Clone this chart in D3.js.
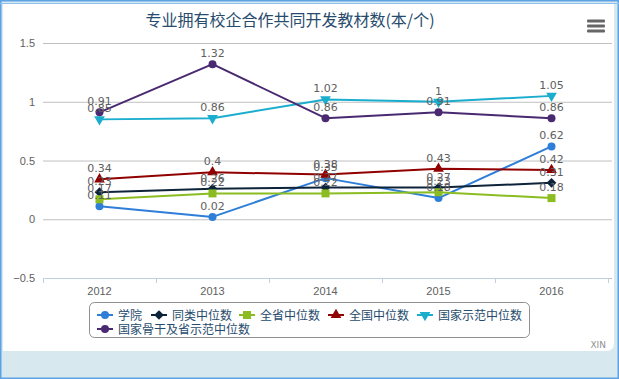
<!DOCTYPE html>
<html><head><meta charset="utf-8">
<script src="https://cdn.jsdelivr.net/npm/d3@7"></script>
<style>
html,body{margin:0;padding:0;background:#fff;}
svg{display:block;font-family:"DejaVu Sans","Noto Sans CJK SC",sans-serif;}
</style></head>
<body><svg id="c" width="619" height="379"></svg>
<script>
const title = "专业拥有校企合作共同开发教材数(本/个)";
const categories = ["2012","2013","2014","2015","2016"];
const yTicks = [-0.5, 0, 0.5, 1, 1.5];
const seriesNames = ["学院","同类中位数","全省中位数","全国中位数","国家示范中位数","国家骨干及省示范中位数"];
const xueyuan = [0.11, 0.02, 0.35, 0.18, 0.62];
const tonglei = [0.23, 0.26, 0.27, 0.27, 0.31];
const quansheng = [0.17, 0.22, 0.22, 0.23, 0.18];
const quanguo = [0.34, 0.4, 0.38, 0.43, 0.42];
const shifan = [0.85, 0.86, 1.02, 1, 1.05];
const gugan = [0.91, 1.32, 0.86, 0.91, 0.86];
const colors = ["#2f7ed8","#0d233a","#8bbc21","#910000","#1aadce","#492970"];
const symbols = ["circle","diamond","square","triangle","triangle-down","circle"];
const allValues = [xueyuan, tonglei, quansheng, quanguo, shifan, gugan];

const svg = d3.select("#c");
// frame
svg.append("rect").attr("x",0).attr("y",0).attr("width",619).attr("height",379).attr("fill","#d7e9ef");
svg.append("path").attr("d","M3,4 H614 V343 Q614,351 606,351 H3 Z").attr("fill","#fff");
svg.append("rect").attr("x",0.75).attr("y",0.75).attr("width",617.5).attr("height",377.5)
  .attr("fill","none").attr("stroke","#5ea2e6").attr("stroke-width",1.5);
svg.append("line").attr("x1",0).attr("x2",619).attr("y1",3.5).attr("y2",3.5).attr("stroke","#8cc0f0").attr("stroke-width",1);

const L = 43, R = 608, T = 43, B = 278;
const x = d3.scaleBand().domain(categories).range([L, R]);
const y = d3.scaleLinear().domain([-0.5, 1.5]).range([B, T]);

// grid
const yAxis = d3.axisLeft(y).tickValues(yTicks).tickSize(-(R - L + 4)).tickFormat(d => d3.format("")(d)).tickPadding(8);
const gy = svg.append("g").attr("transform",`translate(${L},0)`).call(yAxis);
gy.select(".domain").remove();
gy.selectAll(".tick line").attr("stroke","#c0c0c0").attr("stroke-width",1);
gy.selectAll(".tick text").attr("fill","#606060").style("font-size","11px").attr("x",-8);

// x axis
const xAxis = d3.axisBottom(x).tickSize(0).tickPadding(9);
const gx = svg.append("g").attr("transform",`translate(0,${B})`).call(xAxis);
gx.select(".domain").attr("stroke","#c0d0e0").attr("d",`M${L},0.5H${R}`);
gx.selectAll(".tick text").attr("fill","#606060").style("font-size","11px");
// tick marks between categories
const bounds = categories.map(c => x(c)).concat([R]);
svg.append("g").selectAll("line").data(bounds).join("line")
  .attr("x1",d=>Math.round(d)+0.5).attr("x2",d=>Math.round(d)+0.5).attr("y1",B).attr("y2",B+5)
  .attr("stroke","#c0d0e0");

const cx = c => x(c) + x.bandwidth()/2;
const symGen = {
  "circle": d3.symbol().type(d3.symbolCircle).size(Math.PI*16),
  "diamond": d3.symbol().type(d3.symbolDiamond2).size(60),
  "square": d3.symbol().type(d3.symbolSquare).size(64),
  "triangle": d3.symbol().type(d3.symbolTriangle).size(50),
  "triangle-down": d3.symbol().type(d3.symbolTriangle).size(50)
};
const line = d3.line().x((d,i)=>cx(categories[i])).y(d=>y(d));
const seriesG = svg.append("g");
allValues.forEach((vals,si) => {
  const g = seriesG.append("g");
  g.append("path").datum(vals).attr("d",line).attr("fill","none")
    .attr("stroke",colors[si]).attr("stroke-width",2).attr("stroke-linejoin","round");
  g.selectAll("path.m").data(vals).join("path").attr("class","m")
    .attr("d",symGen[symbols[si]]())
    .attr("transform",(d,i)=>`translate(${cx(categories[i])},${y(d)})${symbols[si]==="triangle-down"?" rotate(180)":""}`)
    .attr("fill",colors[si]);
});
const labelG = svg.append("g");
allValues.forEach((vals,si) => {
  labelG.selectAll(null).data(vals).join("text")
    .attr("x",(d,i)=>cx(categories[i])).attr("y",d=>y(d)-7)
    .attr("text-anchor","middle").attr("fill","#606060").style("font-size","11px")
    .text(d=>d);
});

// title
svg.append("text").attr("x",290).attr("y",26).attr("text-anchor","middle")
  .attr("fill","#274b6d").style("font-size","16px").style("font-family","'Noto Sans CJK SC',sans-serif").text(title);
// menu icon
[0,5,10].forEach(o=>svg.append("rect").attr("x",587).attr("y",19.5+o).attr("width",18).attr("height",3).attr("rx",1).attr("fill","#666"));

// legend
svg.append("rect").attr("x",89.5).attr("y",302.5).attr("width",440).attr("height",35).attr("rx",5)
  .attr("fill","#fff").attr("stroke","#909090").attr("stroke-width",1);
const legPos = [[97,315],[151,315],[239,315],[328,315],[417,315],[97,329]];
seriesNames.forEach((n,si)=>{
  const [lx,ly] = legPos[si];
  const g = svg.append("g");
  g.append("line").attr("x1",lx).attr("x2",lx+16).attr("y1",ly).attr("y2",ly).attr("stroke",colors[si]).attr("stroke-width",2);
  g.append("path").attr("d",symGen[symbols[si]]())
    .attr("transform",`translate(${lx+8},${ly})${symbols[si]==="triangle-down"?" rotate(180)":""}`).attr("fill",colors[si]);
  g.append("text").attr("x",lx+21).attr("y",ly+4.5).attr("fill","#274b6d")
    .style("font-size","12px").style("font-family","'Noto Sans CJK SC',sans-serif").text(n);
});
// credit
svg.append("text").attr("x",606).attr("y",348).attr("text-anchor","end").attr("fill","#909090").style("font-size","9px").text("XIN");
</script></body></html>
